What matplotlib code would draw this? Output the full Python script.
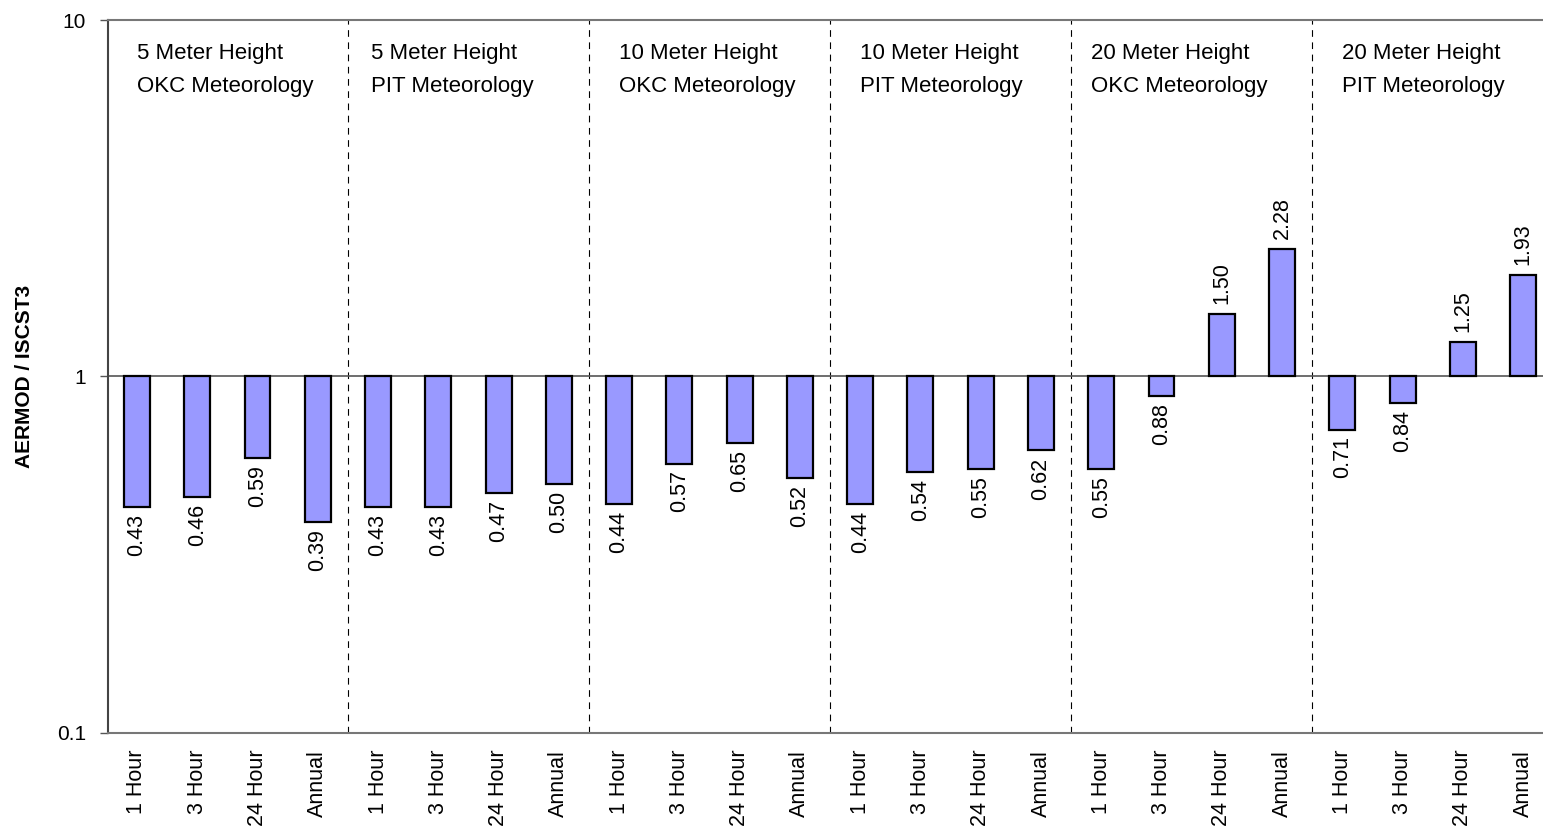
"""
AERMOD / ISCST3 ratio chart - log scale bars around 1
"""

import numpy as np
import matplotlib
matplotlib.use("Agg")
import matplotlib.pyplot as plt

plt.rcParams['font.family'] = ['Liberation Sans', 'DejaVu Sans']

periods = ["1 Hour", "3 Hour", "24 Hour", "Annual"]
groups = ["5 Meter Height\nOKC Meteorology",
          "5 Meter Height\nPIT Meteorology",
          "10 Meter Height\nOKC Meteorology",
          "10 Meter Height\nPIT Meteorology",
          "20 Meter Height\nOKC Meteorology",
          "20 Meter Height\nPIT Meteorology"]
ratios = [0.43, 0.46, 0.59, 0.39,
          0.43, 0.43, 0.47, 0.50,
          0.44, 0.57, 0.65, 0.52,
          0.44, 0.54, 0.55, 0.62,
          0.55, 0.88, 1.50, 2.28,
          0.71, 0.84, 1.25, 1.93]

# small nudges for the group titles (in bar units)
title_dx = [0.0, -0.12, 0.0, 0.0, -0.17, 0.0]

fig = plt.figure(figsize=(15.43, 8.30), dpi=100)
ax = fig.add_axes([0.070, 0.1169, 0.930, 0.859])

x = np.arange(len(ratios))
vals = np.array(ratios)
ax.bar(x, vals - 1, bottom=1, width=0.43, color="#9999ff",
       edgecolor="black", linewidth=1.6, zorder=3)

ax.set_yscale("log")
ax.set_ylim(0.1, 10)
ax.set_xlim(-0.48, 23.33)
ax.set_yticks([0.1, 1, 10])
ax.set_yticklabels(["0.1", "1", "10"])
ax.yaxis.set_minor_locator(matplotlib.ticker.NullLocator())
ax.tick_params(axis="y", length=6, width=1, color="#555555", labelsize=15, pad=10)

ax.set_xticks(x)
ax.set_xticklabels(periods * len(groups), rotation=90, fontsize=15.5)
ax.tick_params(axis="x", length=0, pad=12)

ax.axhline(1, color="#555555", linewidth=1.2, zorder=2)

ax.spines["right"].set_visible(False)
ax.spines["top"].set_color("#777777")
ax.spines["top"].set_linewidth(1.5)
ax.spines["bottom"].set_color("#777777")
ax.spines["bottom"].set_linewidth(1.5)
ax.spines["left"].set_color("#444444")
ax.spines["left"].set_linewidth(1.5)

# group separators
for g in range(1, len(groups)):
    ax.axvline(4 * g - 0.5, color="black", linestyle=(0, (6, 5)),
               linewidth=0.8, zorder=1)

# group titles
for g, name in enumerate(groups):
    ax.text(4 * g + title_dx[g], 8.6, name, fontsize=16, va="top", ha="left",
            linespacing=1.7)

# value labels
for xi, v in zip(x, vals):
    if v < 1:
        ax.annotate("%.2f" % v, (xi, v), xytext=(0, -5),
                    textcoords="offset points", rotation=90,
                    ha="center", va="top", fontsize=15.5)
    else:
        ax.annotate("%.2f" % v, (xi, v), xytext=(0, 7),
                    textcoords="offset points", rotation=90,
                    ha="center", va="bottom", fontsize=15.5)

ax.set_ylabel("AERMOD / ISCST3", fontsize=15, fontweight="bold")
ax.yaxis.set_label_coords(-0.0516, 0.5)

fig.savefig("out.png", dpi=100)
